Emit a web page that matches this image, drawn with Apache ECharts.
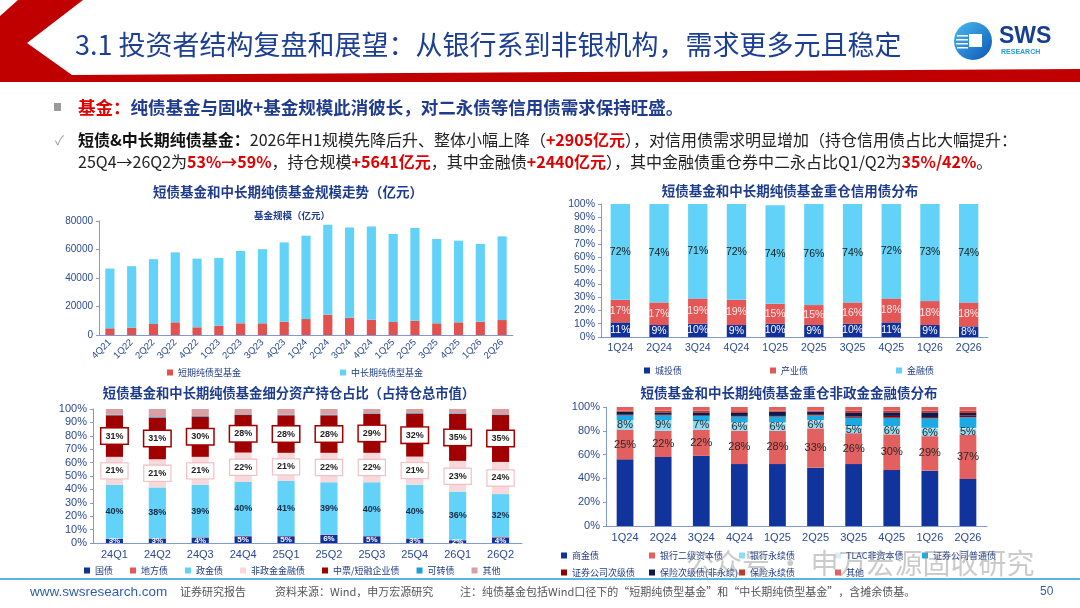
<!DOCTYPE html>
<html>
<head>
<meta charset="utf-8">
<script src="https://cdn.jsdelivr.net/npm/echarts@6/dist/echarts.min.js"></script>
<style>
html,body{margin:0;padding:0;background:#fff;}
#main{width:1080px;height:608px;}
</style>
</head>
<body>
<div id="main"></div>
<script>
// 规模走势（亿元）
const quartersScale = ['4Q21','1Q22','2Q22','3Q22','4Q22','1Q23','2Q23','3Q23','4Q23','1Q24','2Q24','3Q24','4Q24','1Q25','2Q25','3Q25','4Q25','1Q26','2Q26'];
const shortTerm = [4700,5100,7700,8900,5400,6500,8200,8200,9300,11200,14200,12100,10700,9100,10000,8200,8900,9300,10500];
const midLong = [41900,43200,45500,49100,48200,47600,50800,52000,55700,58500,63200,63400,65500,61800,65100,59200,57300,54600,58700];

// 重仓信用债分布
const quartersCredit = ['1Q24','2Q24','3Q24','4Q24','1Q25','2Q25','3Q25','4Q25','1Q26','2Q26'];
const chengtou = [11,9,10,9,10,9,10,11,9,8];
const chanye = [17,17,19,19,15,15,16,18,18,18];
const jinrong = [72,74,71,72,74,76,74,72,73,74];

// 细分资产持仓占比
const quartersAsset = ['24Q1','24Q2','24Q3','24Q4','25Q1','25Q2','25Q3','25Q4','26Q1','26Q2'];
const guozhai = [3,3,4,5,5,6,5,3,2,4];
const difang = [0.3,0.5,0.3,0.5,0.3,0.3,0.3,0.5,0.3,0.5];
const zhengjin = [40,38,39,40,41,39,40,40,36,32];
const feizhengjin = [21,21,21,22,21,22,22,21,23,24];
const zhongpiao = [31,31,30,28,28,28,29,32,35,35];
const kezhuan = [0.5,0.5,0.5,0.5,0.5,0.5,0.5,0.5,0.5,0.5];
const qitaAsset = [4.2,6.0,5.2,4.0,4.2,4.2,3.2,3.0,3.2,4.0];

// 重仓非政金金融债分布
const shangjin = [56,58,59,52,52,49,52,47,46.5,39.5];
const erji = [25,22,22,28,28,33,26,30,29,37];
const yongxu = [8,9,7,6,6,6,5,6,6,5];
const tlac = [0,0,0,1,1,1,1,1,1,1];
const zqPutong = [4,4,4.5,5,5,4,7,7,8,9];
const zqCiji = [0.5,0.5,0.5,0.5,0.5,1,1,1.5,1,1.5];
const bxCiji = [2.5,2,2.5,2.5,3.5,2,3,3,4,2];
const bxYongxu = [1,1.5,1.5,1.5,1,1,2,1.5,1.5,2];
const qitaFin = [3,3,3,3.5,3,3,3,3,3,3];

const FONT = '"Noto Sans CJK SC","Noto Sans",sans-serif';
const AXIS_TXT = '#2B4A94';
const AXIS_LINE = '#8298D2';
const TITLE_BLUE = '#1E3C8E';

const chart = echarts.init(document.getElementById('main'));

function xCat(gi, data, size, rotate) {
    return {
        gridIndex: gi, type: 'category', data: data,
        axisLine: { lineStyle: { color: AXIS_LINE } },
        axisTick: { show: false },
        axisLabel: { interval: 0, rotate: rotate || 0, fontSize: size, color: AXIS_TXT, margin: 6, fontFamily: 'Liberation Sans' }
    };
}
function yVal(gi, max, step, pct, size) {
    return {
        gridIndex: gi, type: 'value', min: 0, max: max, interval: step,
        splitLine: { show: false },
        axisLine: { show: true, lineStyle: { color: AXIS_LINE } },
        axisTick: { show: true, length: 3, lineStyle: { color: AXIS_LINE } },
        axisLabel: { fontSize: size, color: AXIS_TXT, margin: 6, fontFamily: 'Liberation Sans',
            formatter: v => pct ? v + '%' : String(v) }
    };
}
function pctLabel(color, size, extra) {
    return Object.assign({
        show: true, position: 'inside', color: color, fontSize: size, fontFamily: 'Liberation Sans',
        textBorderWidth: 0, formatter: p => p.value + '%'
    }, extra || {});
}
function legendOf(left, top, gap, items) {
    return {
        left: left, top: top, itemGap: gap, itemWidth: 6, itemHeight: 6, icon: 'rect',
        selectedMode: false,
        textStyle: { fontSize: 9, color: '#1F3C88', fontFamily: FONT },
        data: items.map(it => ({ name: it[0], itemStyle: { color: it[1] } }))
    };
}

const C = {
    red: '#E1514E', sky: '#62D2F8', navy: '#10309A', red2: '#E35757',
    darkred: '#A00000', pink: '#F8D8DB', dusty: '#D9A0A3', teal: '#1AA0D8',
    navyBR: '#10339C', redBR: '#E36060', sky2: '#8EDDF6', tlac: '#D8EEF8',
    zqpt: '#1AABE6', zqcj: '#8B0000', bxcj: '#0D1A4D', bxyx: '#C0392B'
};

const brItems = [
    ['商金债', C.navyBR], ['银行二级资本债', C.redBR], ['银行永续债', C.sky2], ['TLAC非资本债', C.tlac], ['证券公司普通债', C.zqpt],
    ['证券公司次级债', C.zqcj], ['保险次级债(非永续)', C.bxcj], ['保险永续债', C.bxyx], ['其他', C.redBR]
];
const brCols = [559, 647, 737, 833, 920];

function hText(x, y, text, size, fill, weight, align) {
    return { type: 'text', x: x, y: y, style: { text: text, fontSize: size, fill: fill, fontWeight: weight || 'normal',
        fontFamily: FONT, align: align || 'left', verticalAlign: 'middle' } };
}

const option = {
    backgroundColor: '#fff',
    animation: false,
    grid: [
        { left: 99, top: 221, width: 414, height: 114 },
        { left: 601, top: 204, width: 387, height: 133 },
        { left: 93, top: 409, width: 429, height: 134 },
        { left: 606, top: 407, width: 381, height: 119 }
    ],
    xAxis: [
        xCat(0, quartersScale, 9.5, 45),
        xCat(1, quartersCredit, 10.5),
        xCat(2, quartersAsset, 11),
        xCat(3, quartersCredit, 11)
    ],
    yAxis: [
        yVal(0, 80000, 20000, false, 10),
        yVal(1, 100, 10, true, 10.5),
        yVal(2, 100, 10, true, 11),
        yVal(3, 100, 20, true, 11)
    ],
    legend: [
        legendOf(162, 363, 99, [['短期纯债型基金', C.red], ['中长期纯债型基金', C.sky]]),
        legendOf(639, 361, 88, [['城投债', C.navy], ['产业债', C.red2], ['金融债', C.sky]]),
        legendOf(79, 561, 17, [['国债', C.navy], ['地方债', C.red2], ['政金债', C.sky], ['非政金金融债', C.pink],
            ['中票/短融企业债', C.darkred], ['可转债', C.teal], ['其他', C.dusty]])
    ].concat(brItems.map((it, i) => legendOf(brCols[i % 5] - 3, (i < 5 ? 552 : 569) - 6, 10, [it]))),
    series: [
        { name: '短期纯债型基金', type: 'bar', xAxisIndex: 0, yAxisIndex: 0, stack: 'tl', barWidth: '42%', data: shortTerm, itemStyle: { color: C.red } },
        { name: '中长期纯债型基金', type: 'bar', xAxisIndex: 0, yAxisIndex: 0, stack: 'tl', data: midLong, itemStyle: { color: C.sky } },

        { name: '城投债', type: 'bar', xAxisIndex: 1, yAxisIndex: 1, stack: 'tr', barWidth: '50%', data: chengtou, itemStyle: { color: C.navy }, label: pctLabel('#fff', 10.5) },
        { name: '产业债', type: 'bar', xAxisIndex: 1, yAxisIndex: 1, stack: 'tr', data: chanye, itemStyle: { color: C.red2 }, label: pctLabel('#FCE8E8', 10.5) },
        { name: '金融债', type: 'bar', xAxisIndex: 1, yAxisIndex: 1, stack: 'tr', data: jinrong, itemStyle: { color: C.sky }, label: pctLabel('#1B1B1B', 10.5) },

        { name: '国债', type: 'bar', xAxisIndex: 2, yAxisIndex: 2, stack: 'bl', barWidth: '40%', data: guozhai, itemStyle: { color: C.navy }, label: pctLabel('#fff', 8, { fontWeight: 'bold' }) },
        { name: '地方债', type: 'bar', xAxisIndex: 2, yAxisIndex: 2, stack: 'bl', data: difang, itemStyle: { color: C.red2 } },
        { name: '政金债', type: 'bar', xAxisIndex: 2, yAxisIndex: 2, stack: 'bl', data: zhengjin, itemStyle: { color: C.sky }, label: pctLabel('#1A2A44', 9, { fontWeight: 'bold' }) },
        { name: '非政金金融债', type: 'bar', xAxisIndex: 2, yAxisIndex: 2, stack: 'bl', data: feizhengjin, itemStyle: { color: C.pink },
            label: pctLabel('#222', 9, { fontWeight: 'bold', backgroundColor: '#fff', borderColor: '#F0C0C5', borderWidth: 1.2, padding: [3, 4] }) },
        { name: '中票/短融企业债', type: 'bar', xAxisIndex: 2, yAxisIndex: 2, stack: 'bl', data: zhongpiao, itemStyle: { color: C.darkred },
            label: pctLabel('#222', 9, { fontWeight: 'bold', backgroundColor: '#fff', borderColor: '#A00000', borderWidth: 1.5, padding: [3, 4] }) },
        { name: '可转债', type: 'bar', xAxisIndex: 2, yAxisIndex: 2, stack: 'bl', data: kezhuan, itemStyle: { color: C.teal } },
        { name: '其他', type: 'bar', xAxisIndex: 2, yAxisIndex: 2, stack: 'bl', data: qitaAsset, itemStyle: { color: C.dusty } },

        { name: '商金债', type: 'bar', xAxisIndex: 3, yAxisIndex: 3, stack: 'br', barWidth: '44%', data: shangjin, itemStyle: { color: C.navyBR } },
        { name: '银行二级资本债', type: 'bar', xAxisIndex: 3, yAxisIndex: 3, stack: 'br', data: erji, itemStyle: { color: C.redBR }, label: pctLabel('#2A2A2A', 11) },
        { name: '银行永续债', type: 'bar', xAxisIndex: 3, yAxisIndex: 3, stack: 'br', data: yongxu, itemStyle: { color: C.sky2 }, label: pctLabel('#2A2A2A', 11) },
        { name: 'TLAC非资本债', type: 'bar', xAxisIndex: 3, yAxisIndex: 3, stack: 'br', data: tlac, itemStyle: { color: C.tlac } },
        { name: '证券公司普通债', type: 'bar', xAxisIndex: 3, yAxisIndex: 3, stack: 'br', data: zqPutong, itemStyle: { color: C.zqpt } },
        { name: '证券公司次级债', type: 'bar', xAxisIndex: 3, yAxisIndex: 3, stack: 'br', data: zqCiji, itemStyle: { color: C.zqcj } },
        { name: '保险次级债(非永续)', type: 'bar', xAxisIndex: 3, yAxisIndex: 3, stack: 'br', data: bxCiji, itemStyle: { color: C.bxcj } },
        { name: '保险永续债', type: 'bar', xAxisIndex: 3, yAxisIndex: 3, stack: 'br', data: bxYongxu, itemStyle: { color: C.bxyx } },
        { name: '其他', type: 'bar', xAxisIndex: 3, yAxisIndex: 3, stack: 'br', data: qitaFin, itemStyle: { color: C.redBR } }
    ],
    graphic: [
        // 页眉红色折角
        { type: 'polygon', shape: { points: [[18,0],[83,0],[27,43],[72,75],[1080,69],[1080,82],[0,82],[0,16]] }, style: { fill: '#C00000' } },
        hText(75, 45, '3.1 投资者结构复盘和展望：从银行系到非银机构，需求更多元且稳定', 27, '#1C3F94'),
        // SWS logo
        { type: 'circle', shape: { cx: 973, cy: 41, r: 19 }, style: { fill: new echarts.graphic.LinearGradient(0, 0, 1, 1, [{ offset: 0, color: '#4BBCF2' }, { offset: 1, color: '#0B55B3' }]) } },
        { type: 'rect', shape: { x: 969, y: 34, width: 13, height: 13 }, style: { fill: '#fff' } },
        { type: 'rect', shape: { x: 957, y: 35, width: 11, height: 1.5 }, style: { fill: '#fff' } },
        { type: 'rect', shape: { x: 956, y: 39, width: 12, height: 1.5 }, style: { fill: '#fff' } },
        { type: 'rect', shape: { x: 956, y: 43, width: 12, height: 1.5 }, style: { fill: '#fff' } },
        { type: 'rect', shape: { x: 957, y: 47, width: 11, height: 1.5 }, style: { fill: '#fff' } },
        { type: 'text', x: 999, y: 37, style: { text: 'SWS', fontSize: 23, fontWeight: 'bold', fill: '#163F8F', fontFamily: 'Liberation Sans', verticalAlign: 'middle' } },
        { type: 'text', x: 1001, y: 52, style: { text: 'RESEARCH', fontSize: 7, fontWeight: 'bold', fill: '#2A9BDB', fontFamily: 'Liberation Sans', verticalAlign: 'middle' } },

        // 正文
        { type: 'rect', shape: { x: 54, y: 103, width: 7, height: 8 }, style: { fill: '#9A9A9A' } },
        { type: 'text', x: 78, y: 107, style: { text: '{r|基金：}{b|纯债基金与固收+基金规模此消彼长，对二永债等信用债需求保持旺盛。}', fontSize: 17.5, fontFamily: FONT, verticalAlign: 'middle',
            rich: { r: { fill: '#E00000', fontWeight: 'bold', fontSize: 17.5, fontFamily: FONT }, b: { fill: '#1F3C8F', fontWeight: 'bold', fontSize: 17.5, fontFamily: FONT } } } },
        hText(55, 140, '✓', 13, '#9A9A9A'),
        { type: 'text', x: 78, y: 140, style: { text: '{k|短债&中长期纯债基金：}{n|2026年H1规模先降后升、整体小幅上降（}{r|+2905亿元}{n|），对信用债需求明显增加（持仓信用债占比大幅提升：}',
            fontSize: 16, fontFamily: FONT, verticalAlign: 'middle',
            rich: { k: { fill: '#111', fontWeight: 'bold', fontSize: 16, fontFamily: FONT }, n: { fill: '#222', fontSize: 16, fontFamily: FONT }, r: { fill: '#E00000', fontWeight: 'bold', fontSize: 16, fontFamily: FONT } } } },
        { type: 'text', x: 78, y: 162, style: { text: '{n|25Q4→26Q2为}{r|53%→59%}{n|，持仓规模}{r|+5641亿元}{n|，其中金融债}{r|+2440亿元}{n|），其中金融债重仓券中二永占比Q1/Q2为}{r|35%/42%}{n|。}',
            fontSize: 16, fontFamily: FONT, verticalAlign: 'middle',
            rich: { n: { fill: '#222', fontSize: 16, fontFamily: FONT }, r: { fill: '#E00000', fontWeight: 'bold', fontSize: 16, fontFamily: FONT } } } },

        // 图表标题
        hText(288, 192, '短债基金和中长期纯债基金规模走势（亿元）', 13.5, TITLE_BLUE, 'bold', 'center'),
        hText(292, 215, '基金规模（亿元）', 9.5, TITLE_BLUE, 'bold', 'center'),
        hText(790, 191, '短债基金和中长期纯债基金重仓信用债分布', 13.5, TITLE_BLUE, 'bold', 'center'),
        hText(289, 393, '短债基金和中长期纯债基金细分资产持仓占比（占持仓总市值）', 13.3, TITLE_BLUE, 'bold', 'center'),
        hText(789, 393, '短债基金和中长期纯债基金重仓非政金金融债分布', 13.5, TITLE_BLUE, 'bold', 'center'),

        // 水印
        { type: 'text', x: 686, y: 563, z: 100, style: { text: '公众号 · 申万宏源固收研究', fontSize: 28, fill: 'rgba(140,140,140,0.45)', fontFamily: FONT, verticalAlign: 'middle' } },

        // 页脚
        { type: 'rect', shape: { x: 0, y: 578, width: 1080, height: 2 }, style: { fill: '#59B7E8' } },
        { type: 'text', x: 30, y: 592, style: { text: 'www.swsresearch.com', fontSize: 13.5, fill: '#2D5FB0', fontFamily: 'Liberation Sans', verticalAlign: 'middle' } },
        hText(180, 592, '证券研究报告', 11, '#555'),
        hText(275, 592, '资料来源：Wind，申万宏源研究', 11, '#555'),
        hText(460, 592, '注：纯债基金包括Wind口径下的“短期纯债型基金”和“中长期纯债型基金”，含摊余债基。', 11, '#555'),
        { type: 'text', x: 1040, y: 592, style: { text: '50', fontSize: 12, fill: '#3A5FA8', fontFamily: 'Liberation Sans', verticalAlign: 'middle' } }
    ]
};

chart.setOption(option);
</script>
</body>
</html>
